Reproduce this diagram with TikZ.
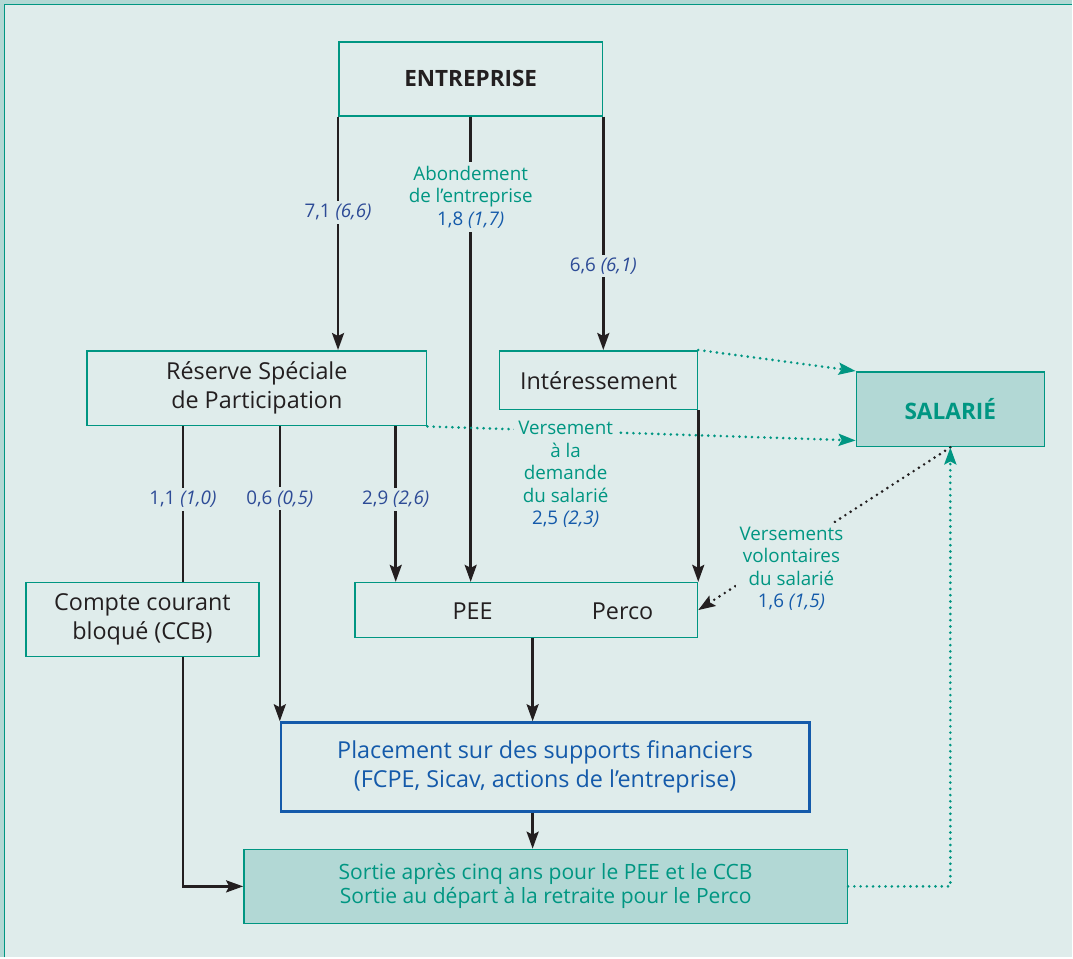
\documentclass[tikz,border=0pt]{standalone}
\usepackage{fontspec}
\setmainfont{Open Sans}
\usetikzlibrary{arrows.meta,calc}
\definecolor{bgcol}{RGB}{223,236,235}
\definecolor{stripcol}{RGB}{178,216,212}
\definecolor{myteal}{RGB}{0,150,130}
\definecolor{myfill}{RGB}{178,216,213}
\definecolor{mynavy}{RGB}{45,75,150}
\definecolor{myblue}{RGB}{20,90,170}
\definecolor{myblack}{RGB}{35,31,32}

\begin{document}
\begin{tikzpicture}[x=0.02cm,y=-0.02cm,
    box/.style={draw=myteal, line width=0.03cm, inner sep=0pt, align=center, text=myblack, font=\fontsize{13.3}{16.5}\selectfont},
    flow/.style={draw=myblack, line width=0.05cm, -{Stealth[length=0.34cm,width=0.24cm,inset=0.06cm]}},
    link/.style={draw=myblack, line width=0.05cm},
    dotline/.style={line width=0.058cm, line cap=round, dash pattern=on 0pt off 0.125cm},
    tealtip/.style={-{Stealth[length=0.34cm,width=0.24cm,inset=0.06cm,myteal]}},
    num/.style={fill=bgcol, inner sep=0.06cm, text=mynavy, font=\fontsize{10.7}{12.8}\selectfont},
    note/.style={fill=bgcol, inner sep=0.08cm, align=center, text=myteal, font=\fontsize{10.7}{12.8}\selectfont}]

    % fond et cadre
    \fill[stripcol] (0,0) rectangle (1073,958);
    \fill[bgcol] (4.5,4.5) rectangle (1073,958);
    \draw[myteal, line width=0.03cm] (4.5,958) -- (4.5,4.5) -- (1073,4.5);
    \useasboundingbox (0,0) rectangle (1073,958);

    \node[box, minimum width=5.28cm, minimum height=1.48cm, font=\fontsize{12.8}{15}\selectfont\bfseries] (E) at (471,79) {ENTREPRISE};
    \node[box, minimum width=6.8cm, minimum height=1.5cm] (RSP) at (257,388.5) {Réserve Spéciale\\de Participation};
    \node[box, minimum width=3.96cm, minimum height=1.18cm] (I) at (599,380.5) {Intéressement};
    \node[box, fill=myfill, minimum width=3.76cm, minimum height=1.5cm, text=myteal, font=\fontsize{12.9}{15}\selectfont\bfseries] (S) at (951,409.5) {SALARIÉ};
    \node[box, minimum width=6.86cm, minimum height=1.1cm] (PP) at (526.5,610.5) {};
    \node[text=myblack, font=\fontsize{13.3}{16.5}\selectfont] (PEE) at (473,612) {PEE};
    \node[text=myblack, font=\fontsize{13.3}{16.5}\selectfont] (Perco) at (623,612) {Perco};
    \node[box, minimum width=4.66cm, minimum height=1.48cm] (CCB) at (142.5,620) {Compte courant\\bloqué (CCB)};
    \node[box, draw=myblue, line width=0.05cm, minimum width=10.58cm, minimum height=1.78cm, text=myblue] (P) at (545.5,767.5) {Placement sur des supports financiers\\(FCPE, Sicav, actions de l’entreprise)};
    \node[box, fill=myfill, minimum width=12.08cm, minimum height=1.48cm, text=myteal, font=\fontsize{12}{13.7}\selectfont] (O) at (546,887) {Sortie après cinq ans pour le PEE et le CCB\\Sortie au départ à la retraite pour le Perco};

    \coordinate (a) at (183,0);
    \coordinate (b) at (280,0);
    \coordinate (c) at (396,0);
    \coordinate (m) at (533,0);

    % flux de l'entreprise
    \draw[flow] (E.south west) -- (E.south west |- RSP.north) node[num, pos=0.41] {7,1 \textit{(6,6)}};
    \draw[flow] (E.south) -- (E.south |- PP.north) node[note, pos=0.173] {Abondement\\de l’entreprise\\{\color{myblue}1,8 \textit{(1,7)}}};
    \draw[flow] (E.south east) -- (E.south east |- I.north) node[num, pos=0.64] {6,6 \textit{(6,1)}};

    % participation
    \draw[link] (RSP.south -| a) -- (CCB.north -| a) node[num, pos=0.47] {1,1 \textit{(1,0)}};
    \draw[flow] (CCB.south -| a) |- (O.west);
    \draw[flow] (RSP.south -| b) -- (P.north -| b) node[num, pos=0.245] {0,6 \textit{(0,5)}};
    \draw[flow] (RSP.south -| c) -- (PP.north -| c) node[num, pos=0.47] {2,9 \textit{(2,6)}};
    \draw[flow] (I.south east) -- (I.south east |- PP.north);
    \draw[flow] (PP.south -| m) -- (P.north -| m);
    \draw[flow] (P.south -| m) -- (O.north -| m);

    % versements au salarie
    \draw[dotline, draw=myteal, tealtip] (I.north east) -- (S.north west);
    \draw[dotline, draw=myteal, tealtip] (RSP.south east) -- ($(S.south west)+(0,-7)$);
    \node[note] (V) at (566,475) {Versement\\à la\\demande\\du salarié\\{\color{myblue}2,5 \textit{(2,3)}}};
    \draw[dotline, draw=myblack, -{Stealth[length=0.34cm,width=0.24cm,inset=0.06cm]}] (S.south) -- (PP.east);
    \node[note] (VV) at (792,569) {Versements\\volontaires\\du salarié\\{\color{myblue}1,6 \textit{(1,5)}}};
    \draw[dotline, draw=myteal, tealtip] (O.east) -| (S.south);
\end{tikzpicture}
\end{document}
